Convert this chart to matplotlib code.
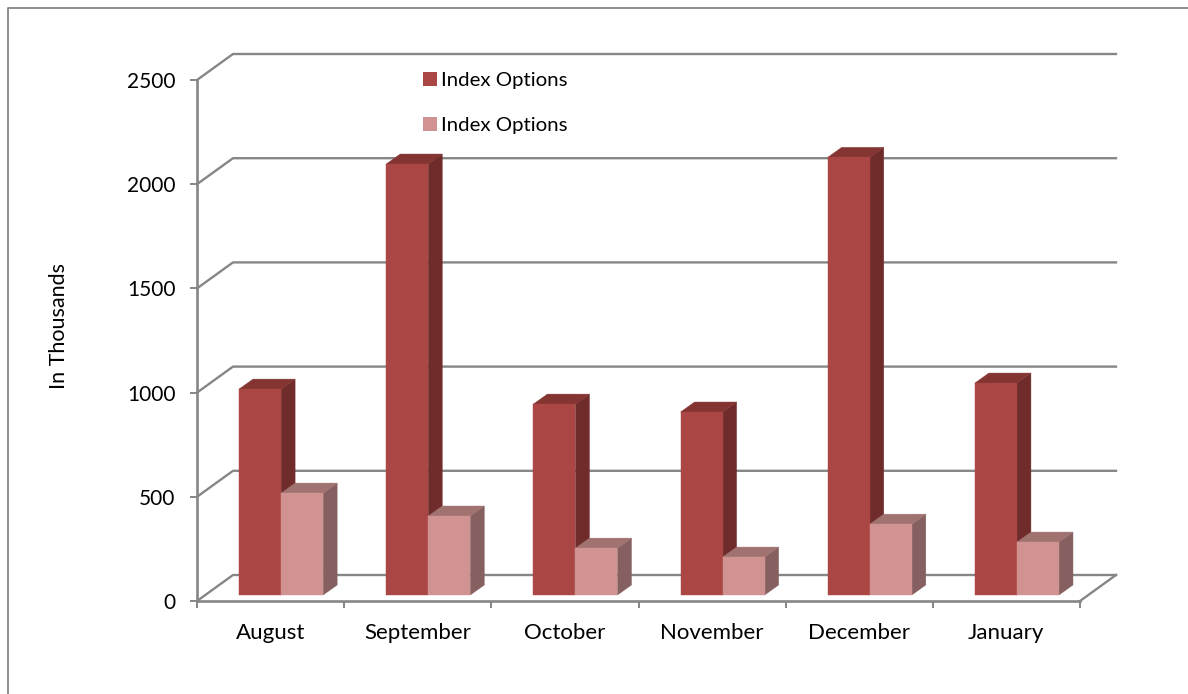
"""Oblique 3D-look column chart of monthly index options, drawn with matplotlib."""
import matplotlib
matplotlib.use("Agg")
import matplotlib.pyplot as plt
from matplotlib.lines import Line2D
from matplotlib.patches import Patch, Polygon

W, H = 1188, 694

months = ["August", "September", "October", "November", "December", "January"]
dark_vals = [988, 2068, 916, 878, 2100, 1017]
light_vals = [489, 379, 225, 182, 340, 254]
y_ticks = [0, 500, 1000, 1500, 2000, 2500]
series_names = ["Index Options", "Index Options"]

C_GRID = "#868686"
DARK = ("#AA4643", "#843532", "#6F2C2A")    # front, top, side
LIGHT = ("#D19392", "#A07270", "#866060")

plt.rcParams["font.family"] = ["Lato", "DejaVu Sans"]
plt.rcParams["font.size"] = 15

fig = plt.figure(figsize=(W / 100, H / 100), dpi=100)
# the axes box is the front plane of the 3D frame
RIGHT = 1080
ax = fig.add_axes([197 / W, 1 - 601 / H, (RIGHT - 197) / W, (601 - 80) / H])
ax.set_xlim(0, 6)
ax.set_ylim(0, 2500)
ax.patch.set_visible(False)

# pixel sizes of the oblique projection, in data units
PX_X = 6 / (RIGHT - 197)
PX_Y = 2500 / (601 - 80)
depth_x, depth_y = 36 * PX_X, 26 * PX_Y     # frame depth
bar_dx, bar_dy = 14 * PX_X, 10 * PX_Y       # column depth
base_dy = 6 * PX_Y                          # columns stand a little behind the front
bar_w = 2 / 7


def column(x, val, cols, z):
    """Front, side and top faces of one column."""
    x0, x1 = x, x + bar_w
    y0, y1 = base_dy, base_dy + val
    front = [(x0, y0), (x1, y0), (x1, y1), (x0, y1)]
    side = [(x1, y0), (x1 + bar_dx, y0 + bar_dy), (x1 + bar_dx, y1 + bar_dy), (x1, y1)]
    top = [(x0, y1), (x1, y1), (x1 + bar_dx, y1 + bar_dy), (x0 + bar_dx, y1 + bar_dy)]
    for pts, c in zip((side, top, front), (cols[2], cols[1], cols[0])):
        ax.add_patch(Polygon(pts, closed=True, facecolor=c, edgecolor=c, lw=0.3,
                             zorder=z, clip_on=False))


# back wall gridlines + side wall diagonals
for v in y_ticks:
    ax.plot([0, depth_x, 6 + depth_x], [v, v + depth_y, v + depth_y],
            color=C_GRID, lw=1.7, clip_on=False, zorder=1)
# right edge of the floor
ax.plot([6, 6 + depth_x], [0, depth_y], color=C_GRID, lw=1.7, clip_on=False, zorder=1)

for i, (d, l) in enumerate(zip(dark_vals, light_vals)):
    column(i + 2 / 7, d, DARK, 3)
    column(i + 2 / 7 + bar_w, l, LIGHT, 4)

for s in ("top", "right"):
    ax.spines[s].set_visible(False)
for s in ("left", "bottom"):
    ax.spines[s].set_color(C_GRID)
    ax.spines[s].set_linewidth(1.9)

ax.set_yticks(y_ticks)
ax.tick_params(axis="y", length=5, width=1.4, color=C_GRID, pad=10.5)
ax.set_xticks(range(7))
ax.set_xticklabels([])
ax.set_xticks([i + 0.5 for i in range(6)], labels=months, minor=True)
ax.tick_params(axis="x", which="major", length=5, width=1.4, color=C_GRID)
ax.tick_params(axis="x", which="minor", length=0, pad=16, labelsize=16)
ax.set_ylabel("In Thousands", fontsize=15.5)
ax.yaxis.set_label_coords((69 - 197) / (RIGHT - 197), (601 - 326) / (601 - 80))

handles = [Patch(facecolor=DARK[0], label=series_names[0]),
           Patch(facecolor=LIGHT[0], label=series_names[1])]
ax.legend(handles=handles, loc="upper left", frameon=False, fontsize=14.7,
          bbox_to_anchor=((423 - 197) / (RIGHT - 197), 1.016), borderaxespad=0, borderpad=0,
          handlelength=0.68, handleheight=0.68, handletextpad=0.22, labelspacing=1.38)

# chart area border, only top and left are inside the picture
fig.add_artist(Line2D([8 / W, 8 / W, 1], [0, 1 - 8 / H, 1 - 8 / H], color="#8c8c8c", lw=1.4))

fig.savefig("out.png", dpi=100)
